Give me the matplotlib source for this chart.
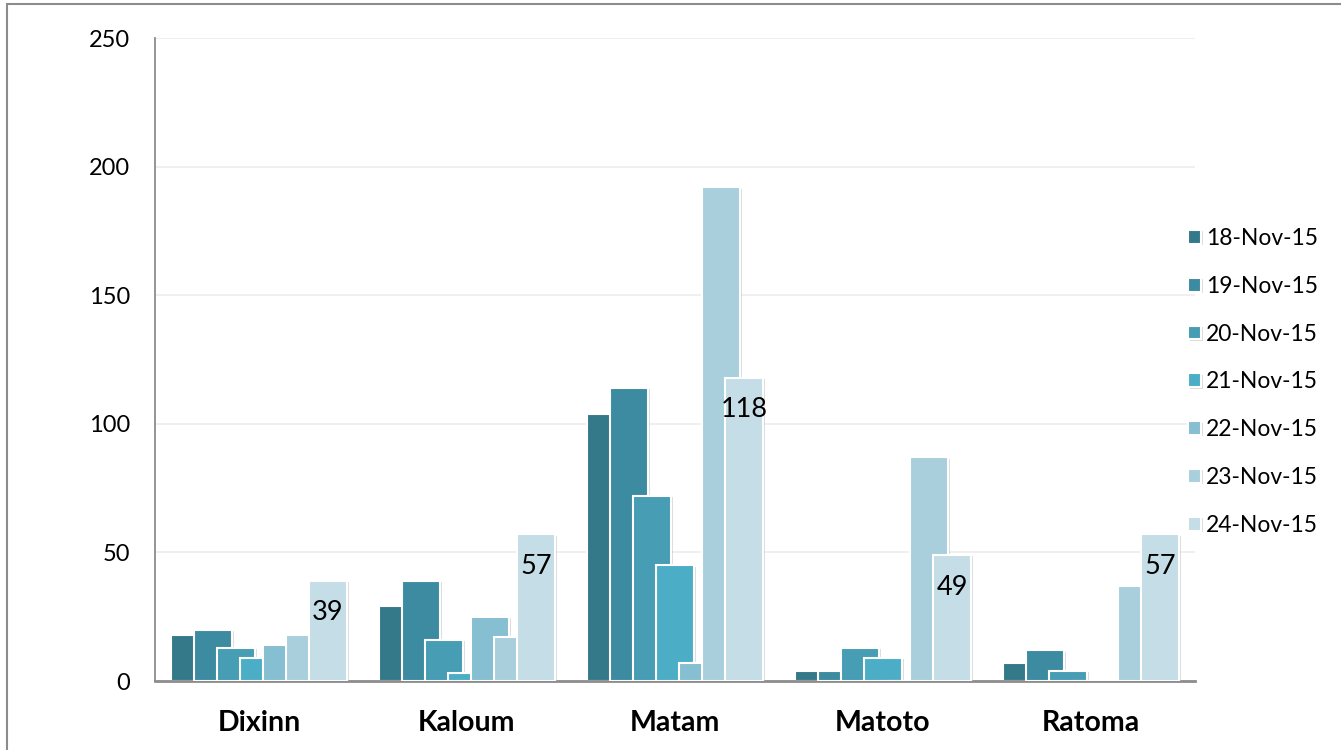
import matplotlib.pyplot as plt
import matplotlib.patheffects as pe
import numpy as np
from matplotlib.patches import Rectangle

plt.rcParams['font.family'] = ['Lato', 'DejaVu Sans']

districts = ['Dixinn', 'Kaloum', 'Matam', 'Matoto', 'Ratoma']
dates = ['18-Nov-15', '19-Nov-15', '20-Nov-15', '21-Nov-15',
         '22-Nov-15', '23-Nov-15', '24-Nov-15']
nov18 = [18, 29, 104, 4, 7]
nov19 = [20, 39, 114, 4, 12]
nov20 = [13, 16, 72, 13, 4]
nov21 = [9, 3, 45, 9, 0]
nov22 = [14, 25, 7, 0, 0]
nov23 = [18, 17, 192, 87, 37]
nov24 = [39, 57, 118, 49, 57]
series = [nov18, nov19, nov20, nov21, nov22, nov23, nov24]
colors = ['#34798A', '#3C8BA1', '#469DB4', '#4CAEC6',
          '#85BFD1', '#A9CFDD', '#C4DDE7']

fig = plt.figure(figsize=(13.41, 7.5), dpi=100)
ax = fig.add_axes([155 / 1341, 69 / 750, 1040 / 1341, 643 / 750])

# outer chart border (top and left visible)
fig.patches.append(Rectangle((7 / 1341, -0.1), 1.2, (746 / 750) + 0.1,
                             transform=fig.transFigure, fill=False,
                             edgecolor='#8c8c8c', linewidth=1.5))

x = np.arange(len(districts))
step = 0.1106
width = 0.183
shadow = [pe.SimplePatchShadow(offset=(1.5, -1), shadow_rgbFace='#bbbbbb', alpha=0.5),
          pe.Normal()]
for i, (vals, col, lab) in enumerate(zip(series, colors, dates)):
    pos = x + (i - 3) * step
    bars = ax.bar(pos, vals, width=width, color=col, edgecolor='white',
                  linewidth=1.5, label=lab, zorder=2 + i)
    for b in bars:
        b.set_path_effects(shadow)
    if i == len(series) - 1:
        for p, v in zip(pos, vals):
            ax.text(p, v - 12.5, str(v), ha='center', va='center', fontsize=19.5,
                    color='black', zorder=20)

ax.set_xlim(-0.5, 4.5)
ax.set_ylim(0, 250)
ax.set_yticks([0, 50, 100, 150, 200, 250])
ax.set_xticks(x)
ax.set_xticklabels(districts, fontsize=20.5, fontweight='bold')
ax.tick_params(axis='y', labelsize=17, length=0, pad=18)
ax.tick_params(axis='x', length=0, pad=21)
ax.grid(axis='y', color='#ececec', linewidth=1.2, zorder=0)
ax.set_axisbelow(True)
for s in ['top', 'right']:
    ax.spines[s].set_visible(False)
ax.spines['left'].set_color('#8c8c8c')
ax.spines['left'].set_linewidth(1.3)
ax.spines['bottom'].set_color('#8c8c8c')
ax.spines['bottom'].set_linewidth(2)

ax.legend(loc='upper left', bbox_to_anchor=(1188 / 1341, 1 - 228 / 750),
          bbox_transform=fig.transFigure, frameon=False, borderpad=0,
          borderaxespad=0, fontsize=16.5, handlelength=0.55, handleheight=0.55,
          handletextpad=0.25, labelspacing=1.17)

fig.savefig('out.png', dpi=100)
